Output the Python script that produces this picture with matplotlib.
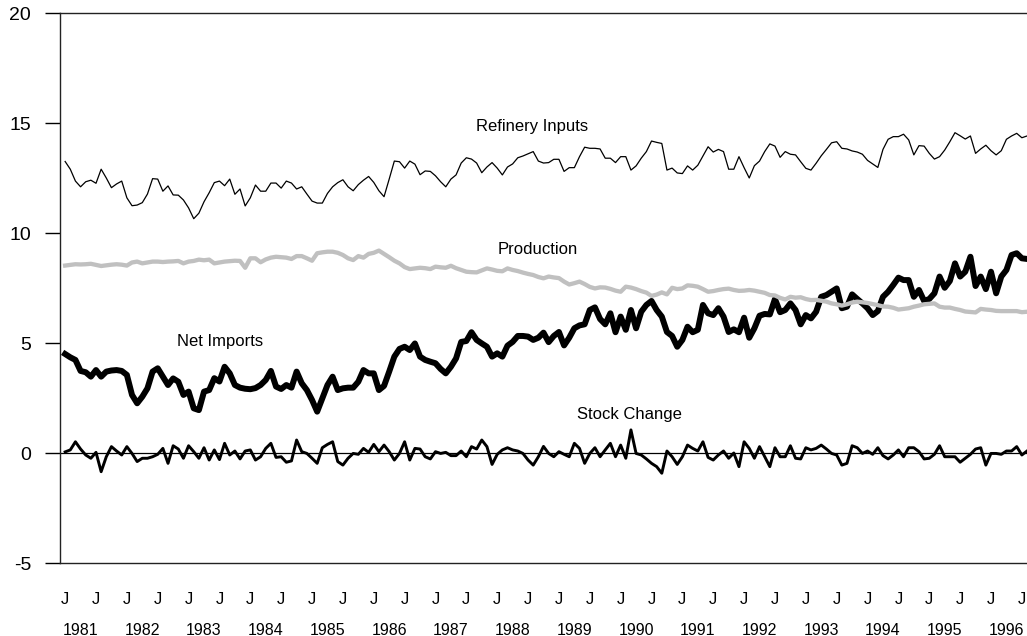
import numpy as np
import matplotlib
matplotlib.use("Agg")
import matplotlib.pyplot as plt

plt.rcParams['font.family'] = ['Liberation Sans', 'DejaVu Sans']

# Monthly data, Jan 1981 .. Aug 1996 (million barrels per day)
refinery_inputs = [
    13.25, 12.9, 12.36, 12.1, 12.33, 12.4, 12.26, 12.9, 12.5, 12.06, 12.23, 12.36,
    11.6, 11.24, 11.27, 11.38, 11.77, 12.47, 12.45, 11.9, 12.14, 11.73, 11.72, 11.5,
    11.14, 10.65, 10.9, 11.42, 11.83, 12.29, 12.36, 12.15, 12.45, 11.76, 12.0, 11.23,
    11.6, 12.18, 11.9, 11.9, 12.27, 12.27, 12.04, 12.36, 12.27, 12.0, 12.1, 11.77,
    11.45, 11.36, 11.36, 11.8, 12.1, 12.29, 12.42, 12.1, 11.92, 12.2, 12.4, 12.57,
    12.3, 11.92, 11.65, 12.45, 13.27, 13.24, 12.95, 13.27, 13.13, 12.65, 12.82, 12.8,
    12.6, 12.33, 12.1, 12.45, 12.64, 13.18, 13.42, 13.36, 13.18, 12.74, 13.0, 13.2,
    12.95, 12.64, 13.0, 13.14, 13.42, 13.5, 13.6, 13.7, 13.27, 13.18, 13.2, 13.35,
    13.35, 12.8, 12.97, 12.97, 13.47, 13.9, 13.85, 13.85, 13.82, 13.4, 13.4, 13.2,
    13.47, 13.47, 12.86, 13.05, 13.4, 13.7, 14.18, 14.12, 14.07, 12.86, 12.95, 12.73,
    12.7, 13.05, 12.86, 13.08, 13.5, 13.92, 13.68, 13.8, 13.7, 12.9, 12.9, 13.47,
    12.97, 12.5, 13.06, 13.27, 13.7, 14.05, 13.95, 13.44, 13.7, 13.58, 13.55, 13.24,
    12.94, 12.86, 13.17, 13.51, 13.8, 14.1, 14.15, 13.85, 13.82, 13.73, 13.68, 13.58,
    13.3, 13.14, 12.98, 13.8, 14.26, 14.38, 14.38, 14.49, 14.23, 13.55, 13.97, 13.95,
    13.62, 13.36, 13.47, 13.77, 14.15, 14.56, 14.42, 14.27, 14.41, 13.62, 13.82, 13.99,
    13.74, 13.55, 13.74, 14.26, 14.41, 14.53, 14.33, 14.41,
]

production = [
    8.52, 8.55, 8.58, 8.57, 8.58, 8.60, 8.55, 8.50, 8.53, 8.56, 8.58, 8.56,
    8.52, 8.66, 8.70, 8.62, 8.66, 8.70, 8.70, 8.68, 8.70, 8.71, 8.73, 8.62,
    8.70, 8.73, 8.79, 8.76, 8.79, 8.62, 8.66, 8.70, 8.72, 8.74, 8.73, 8.42,
    8.85, 8.85, 8.67, 8.80, 8.88, 8.92, 8.90, 8.88, 8.82, 8.95, 8.95, 8.85,
    8.74, 9.08, 9.12, 9.15, 9.15, 9.10, 9.00, 8.85, 8.77, 8.95, 8.88, 9.05,
    9.10, 9.20, 9.05, 8.90, 8.74, 8.62, 8.45, 8.36, 8.39, 8.42, 8.40, 8.36,
    8.47, 8.44, 8.42, 8.51, 8.40, 8.32, 8.24, 8.22, 8.21, 8.30, 8.39, 8.34,
    8.28, 8.26, 8.39, 8.32, 8.27, 8.20, 8.14, 8.09, 8.00, 7.94, 8.02, 7.98,
    7.95, 7.79, 7.66, 7.72, 7.79, 7.68, 7.55, 7.48, 7.53, 7.52, 7.46, 7.38,
    7.33, 7.56, 7.52, 7.45, 7.36, 7.29, 7.14, 7.20, 7.30, 7.21, 7.51, 7.45,
    7.48, 7.62, 7.60, 7.56, 7.45, 7.33, 7.36, 7.41, 7.45, 7.47, 7.41, 7.37,
    7.38, 7.41, 7.38, 7.33, 7.28, 7.18, 7.16, 7.05, 6.98, 7.10, 7.06, 7.08,
    7.00, 6.95, 6.96, 6.92, 6.88, 6.80, 6.76, 6.70, 6.76, 6.84, 6.88, 6.85,
    6.82, 6.77, 6.72, 6.66, 6.65, 6.60, 6.52, 6.55, 6.58, 6.65, 6.70, 6.76,
    6.78, 6.80, 6.65, 6.61, 6.61, 6.55, 6.50, 6.43, 6.41, 6.39, 6.55, 6.52,
    6.50, 6.46, 6.45, 6.45, 6.45, 6.45, 6.40, 6.42,
]

net_imports = [
    4.5, 4.35, 4.23, 3.73, 3.67, 3.47, 3.77, 3.47, 3.7, 3.75, 3.77, 3.73,
    3.55, 2.64, 2.26, 2.56, 2.94, 3.7, 3.85, 3.47, 3.09, 3.39, 3.24, 2.64,
    2.79, 2.03, 1.95, 2.79, 2.86, 3.4, 3.25, 3.92, 3.62, 3.09, 2.97, 2.92,
    2.9, 2.95, 3.09, 3.32, 3.73, 3.02, 2.91, 3.09, 2.97, 3.7, 3.17, 2.86,
    2.41, 1.88, 2.49, 3.09, 3.47, 2.86, 2.94, 2.97, 2.97, 3.24, 3.77, 3.62,
    3.62, 2.86, 3.05, 3.7, 4.38, 4.73, 4.83, 4.68, 4.98, 4.38, 4.23, 4.15,
    4.08, 3.82, 3.62, 3.92, 4.3, 5.05, 5.09, 5.49, 5.14, 4.98, 4.83, 4.38,
    4.53, 4.38, 4.88, 5.05, 5.32, 5.32, 5.29, 5.14, 5.24, 5.47, 5.04, 5.32,
    5.5, 4.89, 5.24, 5.67, 5.8, 5.85, 6.5, 6.62, 6.09, 5.85, 6.35, 5.49,
    6.2, 5.6, 6.5, 5.67, 6.42, 6.73, 6.91, 6.5, 6.2, 5.5, 5.32, 4.83,
    5.14, 5.74, 5.49, 5.6, 6.73, 6.35, 6.27, 6.58, 6.2, 5.5, 5.62, 5.49,
    6.15, 5.24, 5.67, 6.24, 6.32, 6.3, 7.0, 6.4, 6.5, 6.8, 6.5, 5.85,
    6.27, 6.12, 6.42, 7.1, 7.18, 7.33, 7.48, 6.58, 6.65, 7.21, 7.0, 6.8,
    6.58, 6.27, 6.45, 7.1, 7.33, 7.64, 7.97, 7.86, 7.86, 7.1, 7.41, 6.91,
    7.0, 7.26, 8.02, 7.51, 7.82, 8.62, 8.02, 8.24, 8.92, 7.59, 8.02, 7.45,
    8.24, 7.26, 8.02, 8.32, 9.0, 9.08, 8.85, 8.82,
]

stock_change = [
    0.05, 0.14, 0.51, 0.18, -0.09, -0.24, 0.03, -0.85, -0.17, 0.29, 0.09, -0.09,
    0.29, -0.02, -0.39, -0.24, -0.24, -0.17, -0.06, 0.21, -0.47, 0.33, 0.18, -0.24,
    0.33, 0.06, -0.24, 0.24, -0.32, 0.14, -0.3, 0.44, -0.09, 0.09, -0.27, 0.09,
    0.14, -0.32, -0.17, 0.21, 0.44, -0.2, -0.17, -0.42, -0.36, 0.59, 0.06, -0.02,
    -0.24, -0.47, 0.24, 0.39, 0.51, -0.39, -0.55, -0.24, -0.02, -0.06, 0.21, 0.03,
    0.39, 0.06, 0.36, 0.06, -0.32, -0.02, 0.51, -0.32, 0.21, 0.18, -0.17, -0.27,
    0.06, -0.02, 0.03, -0.12, -0.12, 0.09, -0.17, 0.29, 0.18, 0.59, 0.29, -0.52,
    -0.06, 0.14, 0.24, 0.14, 0.09, -0.02, -0.32, -0.55, -0.17, 0.3, -0.02, -0.17,
    0.06, -0.06, -0.17, 0.44, 0.21, -0.47, -0.02, 0.24, -0.17, 0.14, 0.44, -0.17,
    0.36, -0.24, 1.05, -0.02, -0.09, -0.27, -0.47, -0.62, -0.92, 0.09, -0.17, -0.52,
    -0.17, 0.36, 0.21, 0.09, 0.51, -0.2, -0.32, -0.09, 0.09, -0.24, 0.0, -0.62,
    0.51, 0.21, -0.24, 0.29, -0.17, -0.62, 0.24, -0.17, -0.17, 0.33, -0.24, -0.27,
    0.24, 0.14, 0.21, 0.36, 0.18, -0.02, -0.09, -0.55, -0.47, 0.33, 0.24, -0.02,
    0.09, -0.06, 0.24, -0.12, -0.27, -0.09, 0.14, -0.17, 0.24, 0.24, 0.06, -0.27,
    -0.24, -0.06, 0.33, -0.17, -0.17, -0.17, -0.42, -0.24, -0.06, 0.18, 0.24, -0.55,
    -0.02, -0.02, -0.06, 0.09, 0.09, 0.29, -0.09, 0.09,
]

years = list(range(1981, 1997))
year_labels = [str(y) for y in years]
y_ticks = [-5, 0, 5, 10, 15, 20]

months = np.arange(len(refinery_inputs))

fig = plt.figure(figsize=(10.27, 6.36), dpi=100)
ax = fig.add_axes([60 / 1027, 1 - 563 / 636, 967 / 1027, 550 / 636])

ax.axhline(0, color="black", lw=0.9, zorder=1)
ax.plot(months, refinery_inputs, color="black", lw=0.9, zorder=3)
ax.plot(months, net_imports, color="black", lw=4.3, zorder=3, solid_joinstyle="round")
ax.plot(months, production, color="#c0c0c0", lw=3.1, zorder=4)
ax.plot(months, stock_change, color="black", lw=2.1, zorder=3)

ax.text(90.7, 14.83, "Refinery Inputs", ha="center", va="center", fontsize=12)
ax.text(91.8, 9.27, "Production", ha="center", va="center", fontsize=12)
ax.text(30.1, 5.06, "Net Imports", ha="center", va="center", fontsize=12)
ax.text(109.7, 1.76, "Stock Change", ha="center", va="center", fontsize=12)

ax.set_xlim(-1, 187)
ax.set_ylim(-5, 20)
ax.set_yticks(y_ticks)
ax.set_yticklabels([str(v) for v in y_ticks])
ax.tick_params(axis="y", direction="out", length=10.8, width=1.0, pad=10, labelsize=14)

j_pos = np.arange(0, 187, 6)
month_labels = ["J"] * len(j_pos)
ax.set_xticks(j_pos)
ax.set_xticklabels(month_labels)
ax.set_xticks([12 * i + 3 for i in range(len(years))], minor=True)
ax.set_xticklabels(year_labels, minor=True)
ax.tick_params(axis="x", which="major", length=0, pad=21, labelsize=12)
ax.tick_params(axis="x", which="minor", length=0, pad=43, labelsize=11.5)

for s in ["top", "left", "bottom"]:
    ax.spines[s].set_linewidth(1.0)
    ax.spines[s].set_color("#222222")
ax.spines["right"].set_visible(False)

fig.savefig("out.png", dpi=100)
